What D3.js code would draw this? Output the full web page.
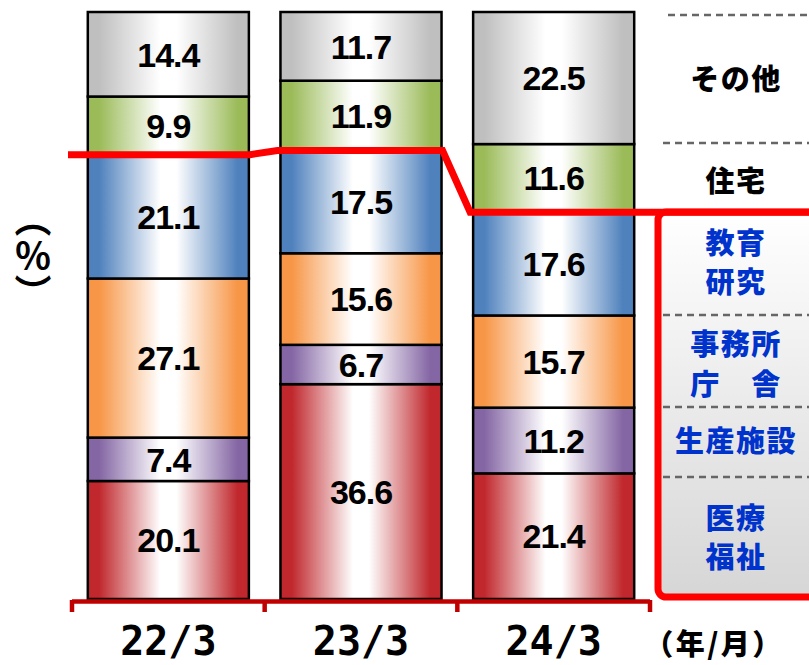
<!DOCTYPE html>
<html><head><meta charset="utf-8">
<script src="https://cdn.jsdelivr.net/npm/d3@7"></script>
<style>html,body{margin:0;padding:0;background:#fff}svg{display:block}</style>
</head><body>
<svg id="chart" width="809" height="665"></svg>
<script>
// ---- data ----
const periods = ["22/3", "23/3", "24/3"];
const categories = ["医療福祉", "生産施設", "事務所庁舎", "教育研究", "住宅", "その他"];
const values2203 = [20.1, 7.4, 27.1, 21.1, 9.9, 14.4];
const values2303 = [36.6, 6.7, 15.6, 17.5, 11.9, 11.7];
const values2403 = [21.4, 11.2, 15.7, 17.6, 11.6, 22.5];
const seriesValues = [values2203, values2303, values2403];
const categoryColors = ["#c0282d", "#8466a4", "#f79646", "#4f81bd", "#9bbb59", "#bfbfbf"];
const legendLabels = [["その他"], ["住宅"], ["教育", "研究"], ["事務所", "庁　舎"], ["生産施設"], ["医療", "福祉"]];
const legendBlue = [false, false, true, true, true, true];
const yAxisLabel = "（％）";
const xAxisUnit = "（年/月）";
const redLineUpTo = 4; // cumulative of the first 4 categories (医療〜教育)

// ---- layout ----
const W = 809, H = 665;
const svg = d3.select("#chart");
const defs = svg.append("defs");

const x = d3.scaleBand().domain(periods).range([72, 650]).paddingInner(0.164).paddingOuter(0.082);
const y = d3.scaleLinear().domain([0, 100]).range([599, 12]);

// gradients
categoryColors.forEach((c, i) => {
  const g = defs.append("linearGradient").attr("id", "g" + i)
    .attr("x1", "0%").attr("x2", "100%").attr("y1", "0%").attr("y2", "0%");
  [[0, c], [0.07, c], [0.45, "#ffffff"], [0.55, "#ffffff"], [0.93, c], [1, c]].forEach(([o, col]) =>
    g.append("stop").attr("offset", o).attr("stop-color", col));
});
const bg = defs.append("linearGradient").attr("id", "boxg").attr("x1", 0).attr("x2", 0).attr("y1", 0).attr("y2", 1);
bg.append("stop").attr("offset", 0).attr("stop-color", "#ffffff");
bg.append("stop").attr("offset", 1).attr("stop-color", "#d6d6d6");

// stack
const table = periods.map((p, i) => {
  const o = { period: p };
  categories.forEach((c, j) => o[c] = seriesValues[i][j]);
  return o;
});
const stacked = d3.stack().keys(categories)(table);

// bars
const layers = svg.append("g").selectAll("g").data(stacked).join("g")
  .attr("fill", (d, i) => `url(#g${i})`);
layers.selectAll("rect").data(d => d).join("rect")
  .attr("x", d => x(d.data.period))
  .attr("width", x.bandwidth())
  .attr("y", d => y(d[1]))
  .attr("height", d => y(d[0]) - y(d[1]))
  .attr("stroke", "#000").attr("stroke-width", 2.5);

// value labels
const labels = svg.append("g");
stacked.forEach(layer => {
  layer.forEach(d => {
    labels.append("text")
      .attr("x", x(d.data.period) + x.bandwidth() / 2)
      .attr("y", (y(d[0]) + y(d[1])) / 2)
      .attr("dy", "0.36em")
      .attr("text-anchor", "middle")
      .attr("font-family", "Liberation Sans, Arial, sans-serif")
      .attr("font-weight", "bold").attr("font-size", 34)
      .attr("letter-spacing", -1)
      .attr("fill", "#000")
      .text(d3.format(".1f")(d[1] - d[0]));
  });
});

// x axis (red)
const axisCol = "#c00000";
const step = x.step();
const x0 = x.range()[0], x1 = x.range()[1];
svg.append("line").attr("x1", x0).attr("x2", x1).attr("y1", 601.5).attr("y2", 601.5)
  .attr("stroke", axisCol).attr("stroke-width", 4.5);
d3.range(periods.length + 1).forEach(i => {
  const tx = x0 + i * step;
  svg.append("line").attr("x1", tx).attr("x2", tx).attr("y1", 600).attr("y2", 612)
    .attr("stroke", axisCol).attr("stroke-width", 4.5);
});
svg.append("g").selectAll("text").data(periods).join("text")
  .attr("x", d => x(d) + x.bandwidth() / 2)
  .attr("y", 655)
  .attr("text-anchor", "middle")
  .attr("font-family", "DejaVu Sans Mono, monospace")
  .attr("font-weight", "bold").attr("font-size", 40)
  .attr("fill", "#000")
  .text(d => d);

svg.append("text").attr("x", 714).attr("y", 655).attr("text-anchor", "middle")
  .attr("font-family", "Noto Sans CJK JP").attr("font-weight", 900).attr("font-size", 29)
  .attr("letter-spacing", 2.5)
  .attr("fill", "#000").text(xAxisUnit);

// y axis label (vertical writing)
svg.append("text").attr("x", 33).attr("y", 256).attr("text-anchor", "middle")
  .style("writing-mode", "vertical-rl")
  .attr("font-family", "Noto Sans CJK JP").attr("font-weight", "bold").attr("font-size", 37)
  .attr("fill", "#000").text(yAxisLabel);

// legend box (right)
svg.append("rect").attr("x", 658).attr("y", 212).attr("width", 200).attr("height", 385)
  .attr("rx", 8).attr("fill", "url(#boxg)").attr("stroke", "#ff0000").attr("stroke-width", 7);

// dashed separators
const dashes = [[668, 15], [663, 143], [663, 315], [663, 407], [663, 477]];
svg.append("g").selectAll("line").data(dashes).join("line")
  .attr("x1", d => d[0]).attr("x2", W).attr("y1", d => d[1]).attr("y2", d => d[1])
  .attr("stroke", "#666").attr("stroke-width", 2.5).attr("stroke-dasharray", "7,5");

// legend labels (multi-line labels as one text with tspans)
const legendY = [[80], [182], [244, 283], [345, 385], [442], [519, 558]];
const lg = svg.append("g").attr("font-family", "Noto Sans CJK JP").attr("font-weight", 900)
  .attr("font-size", 29).attr("text-anchor", "middle");
legendLabels.forEach((lines, i) => {
  const t = lg.append("text").attr("letter-spacing", 1.5)
    .attr("fill", legendBlue[i] ? "#0033cc" : "#000");
  lines.forEach((s, k) => {
    t.append("tspan").attr("x", 736).attr("y", legendY[i][k]).attr("dy", "0.36em").text(s);
  });
});

// red line (cumulative 医療〜教育 boundary)
const cum = seriesValues.map(v => d3.sum(v.slice(0, redLineUpTo)));
const pts = [];
periods.forEach((p, i) => {
  const xs = i === 0 ? 68 : x(p) - 3;
  const xe = i === periods.length - 1 ? W : x(p) + x.bandwidth() + 1;
  pts.push([xs, y(cum[i])], [xe, y(cum[i])]);
});
svg.append("path").attr("d", d3.line()(pts)).attr("fill", "none")
  .attr("stroke", "#ff0000").attr("stroke-width", 7).attr("stroke-linejoin", "miter");
</script>
</body></html>
